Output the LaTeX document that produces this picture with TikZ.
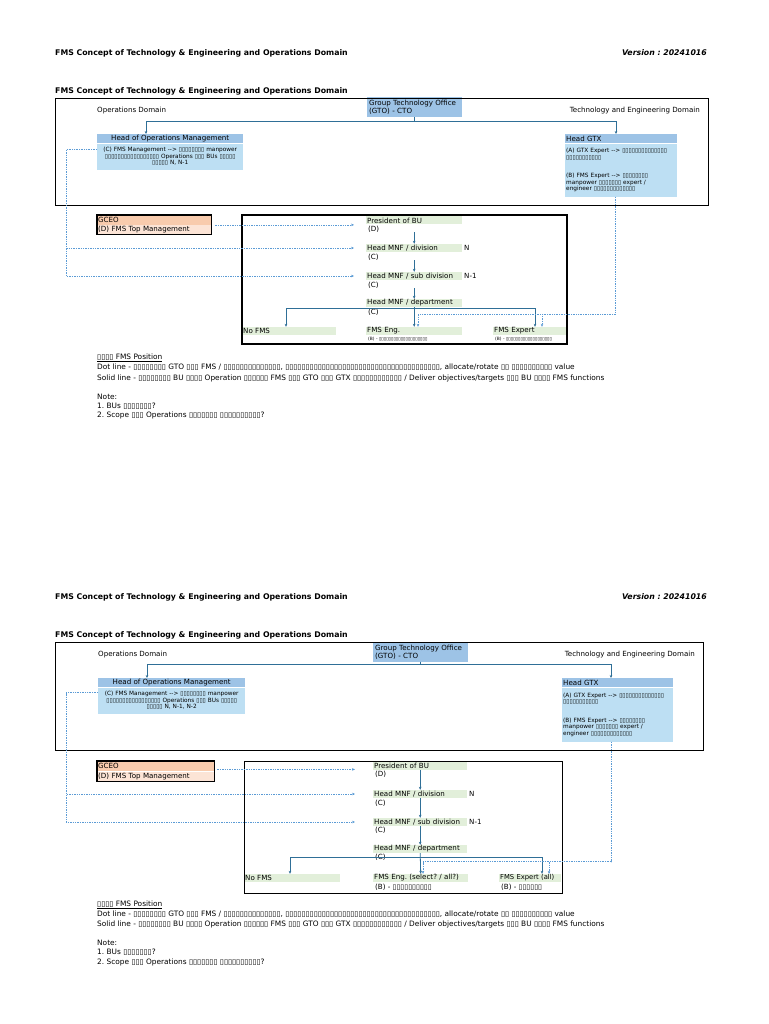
\documentclass[tikz,border=0pt]{standalone}
\usepackage{fontspec}
\setmainfont{DejaVu Sans}
\usetikzlibrary{arrows.meta,positioning}

\definecolor{gtoblue}{HTML}{9DC3E6}
\definecolor{boxblue}{HTML}{BDDFF3}
\definecolor{cellgreen}{HTML}{E2EFDA}
\definecolor{ceodark}{HTML}{F8CBAD}
\definecolor{ceolight}{HTML}{FCE4D6}
\definecolor{linkblue}{HTML}{2F6F97}
\definecolor{dotblue}{HTML}{5B9BD5}

\newcommand{\tofu}[1]{\foreach\k in {1,...,#1}{▯}}
\newcommand{\lblfont}{\fontsize{7.1}{8}\selectfont}
\newcommand{\notefont}{\fontsize{7.4}{8}\selectfont}
\newcommand{\smallfont}{\fontsize{5.8}{6.5}\selectfont}
\newcommand{\tinyfont}{\fontsize{4.4}{5}\selectfont}
\frenchspacing

\begin{document}
\begin{tikzpicture}[x=1pt,y=-1pt]
  \tikzstyle{ttl}=[font=\fontsize{7.8}{9}\selectfont\bfseries,inner sep=0pt]
  \tikzstyle{lbl}=[font=\lblfont,inner sep=0pt,anchor=west]
  \tikzstyle{note}=[font=\notefont,inner sep=0pt,anchor=west]
  \tikzstyle{gto}=[anchor=north west,fill=gtoblue,font=\lblfont,align=left,inner sep=2pt,text width=91pt]
  \tikzstyle{hdr}=[anchor=north west,fill=gtoblue,font=\lblfont,inner ysep=0pt,inner xsep=1pt,minimum height=9pt]
  \tikzstyle{body}=[anchor=north west,fill=boxblue,font=\smallfont,inner sep=1pt]
  \tikzstyle{ceo}=[anchor=north west,font=\lblfont,align=left,inner ysep=0pt,inner xsep=1pt]
  \tikzstyle{cell}=[anchor=west,fill=cellgreen,font=\lblfont,align=left,inner ysep=0pt,inner xsep=1pt,minimum height=8pt]
  \tikzstyle{link}=[draw=linkblue,line width=0.8pt,-{Stealth[length=3pt,width=2.6pt]}]
  \tikzstyle{dotlink}=[draw=dotblue,line width=0.7pt,dash pattern=on 1.4pt off 1pt,-{Stealth[length=3pt,width=2.6pt]}]
  \useasboundingbox[fill=white] (0,0) rectangle (768,1024);

  % ---- first version ----
  \node[ttl,anchor=west] (title1) at (55,53) {FMS Concept of Technology \& Engineering and Operations Domain};
  \node[ttl,anchor=east] (ver1) at (707,53) {\itshape Version : 20241016};
  \node[ttl,anchor=west] (sub1) at (55,91) {FMS Concept of Technology \& Engineering and Operations Domain};

  \node[gto,minimum height=20pt] (gto1) at (367,97) {Group Technology Office\\(GTO) - CTO};
  \node[lbl] (opsdom1) at (97,111) {Operations Domain};
  \node[lbl,anchor=east] (techdom1) at (700,111) {Technology and Engineering Domain};

  \node[hdr,minimum width=146pt] (hops1) at (97,134) {Head of Operations Management};
  \node[body,minimum width=146pt,minimum height=26pt,align=center,text width=142pt] (hopsb1) at (hops1.south west)
    {(C) FMS Management -{}-> \tofu{8} manpower\\\tofu{17} Operations \tofu{3} BUs \tofu{5}\\\tofu{5} N, N-1};
  \node[hdr,minimum width=112pt,text width=110pt,align=left] (hgtx1) at (565,134) {Head GTX};
  \node[body,minimum height=53pt,text width=110pt,align=left] (hgtxb1) at (hgtx1.south west)
    {(A) GTX Expert -{}-> \tofu{14}\\\tofu{11}\\[12pt](B) FMS Expert -{}-> \tofu{8}\\manpower \tofu{7} expert /\\engineer \tofu{13}};

  \node[ceo,fill=ceodark,minimum width=114pt,minimum height=9.5pt,text width=112pt] (gceo1) at (97,215) {GCEO};
  \node[ceo,fill=ceolight,minimum width=114pt,minimum height=9.5pt,text width=112pt] (gceob1) at (gceo1.south west) {(D) FMS Top Management};

  \node[cell,minimum width=96pt,text width=94pt] (pres1) at (366,220.5) {President of BU};
  \node[lbl] (pd1) at (368,229) {(D)};
  \node[cell,minimum width=96pt,text width=94pt] (div1) at (366,248) {Head MNF / division};
  \node[lbl] (dc1) at (368,257) {(C)};
  \node[lbl] (n1) at (464,248) {N};
  \node[cell,minimum width=96pt,text width=94pt] (subd1) at (366,276) {Head MNF / sub division};
  \node[lbl] (sc1) at (368,285) {(C)};
  \node[lbl] (nm1) at (464,276) {N-1};
  \node[cell,minimum width=96pt,text width=94pt] (dept1) at (366,303) {Head MNF / department};
  \node[lbl] (pc1) at (368,312) {(C)};
  \node[cell,minimum width=94pt,text width=92pt] (nofms1) at (242,331) {No FMS};
  \node[cell,minimum width=96pt,text width=94pt] (eng1) at (366,331) {FMS Eng.};
  \node[lbl,font=\tinyfont] (engt1) at (368,339) {(B) - \tofu{20}};
  \node[cell,minimum width=74pt,text width=72pt] (exp1) at (493,331) {FMS Expert};
  \node[lbl,font=\tinyfont] (expt1) at (495,339) {(B) - \tofu{19}};

  \draw[line width=0.6pt] (55,98) rectangle (708,205);
  \draw[line width=1.1pt] (242,215) rectangle (567,344);
  \draw[line width=1.1pt] (gceo1.north west) rectangle (gceob1.south east);

  \draw[link] (gto1.south) -- ++(0,4) -| ([xshift=49pt]hops1.north west);
  \draw[link] (gto1.south) -- ++(0,4) -| ([xshift=51pt]hgtx1.north west);
  \draw[link] (pres1.south |- pd1.south) -- (div1.north);
  \draw[link] (div1.south |- dc1.south) -- (subd1.north);
  \draw[link] (subd1.south |- sc1.south) -- (dept1.north);
  \draw[link] (dept1.south) -- (eng1.north);
  \draw[link] (dept1.south) ++(0,1) -| ([xshift=44pt]nofms1.north west);
  \draw[link] (dept1.south) ++(0,1) -| ([xshift=42pt]exp1.north west);

  \draw[dotlink] (gceob1.north east) ++(4,0) -- ([xshift=-12pt]gceob1.north east -| pres1.west);
  \draw[dotlink] ([yshift=7pt]hopsb1.west) -- ++(-31,0) |- ([xshift=-12pt]div1.west);
  \draw[dotlink] ([yshift=7pt]hopsb1.west) -- ++(-31,0) |- ([xshift=-12pt]subd1.west);
  \draw[dotlink] ([xshift=50pt]hgtxb1.south west) -- ++(0,118) -| ([xshift=52pt]eng1.north west);
  \draw[dotlink] ([xshift=50pt]hgtxb1.south west) -- ++(0,118) -| ([xshift=49pt]exp1.north west);

  \node[note] (pos1) at (97,358) {\underline{\tofu{4} FMS Position}};
  \node[note] (dot1) at (97,367) {Dot line - \tofu{8} GTO \tofu{3} FMS / \tofu{14}, \tofu{38}, allocate/rotate \tofu{2} \tofu{10} value};
  \node[note] (sol1) at (97,378) {Solid line - \tofu{8} BU \tofu{4} Operation \tofu{6} FMS \tofu{3} GTO \tofu{3} GTX \tofu{12} / Deliver objectives/targets \tofu{3} BU \tofu{4} FMS functions};
  \node[note] (note1) at (97,397) {Note:};
  \node[note] (qa1) at (97,406) {1. BUs \tofu{7}?};
  \node[note] (qb1) at (97,415) {2. Scope \tofu{3} Operations \tofu{7} \tofu{10}?};

  % ---- second version ----
  \node[ttl,anchor=west] (title2) at (55,597) {FMS Concept of Technology \& Engineering and Operations Domain};
  \node[ttl,anchor=east] (ver2) at (707,597) {\itshape Version : 20241016};
  \node[ttl,anchor=west] (sub2) at (55,635) {FMS Concept of Technology \& Engineering and Operations Domain};

  \node[gto,minimum height=17pt] (gto2) at (373,643) {Group Technology Office\\(GTO) - CTO};
  \node[lbl] (opsdom2) at (98,655) {Operations Domain};
  \node[lbl,anchor=east] (techdom2) at (695,655) {Technology and Engineering Domain};

  \node[hdr,minimum width=147pt] (hops2) at (98,678) {Head of Operations Management};
  \node[body,minimum width=147pt,minimum height=26pt,align=center,text width=143pt] (hopsb2) at (hops2.south west)
    {(C) FMS Management -{}-> \tofu{8} manpower\\\tofu{17} Operations \tofu{3} BUs \tofu{5}\\\tofu{5} N, N-1, N-2};
  \node[hdr,minimum width=111pt,text width=109pt,align=left] (hgtx2) at (562,678) {Head GTX};
  \node[body,minimum height=54pt,text width=109pt,align=left] (hgtxb2) at (hgtx2.south west)
    {(A) GTX Expert -{}-> \tofu{14}\\\tofu{11}\\[12pt](B) FMS Expert -{}-> \tofu{8}\\manpower \tofu{7} expert /\\engineer \tofu{13}};

  \node[ceo,fill=ceodark,minimum width=117pt,minimum height=10pt,text width=115pt] (gceo2) at (97,761) {GCEO};
  \node[ceo,fill=ceolight,minimum width=117pt,minimum height=10pt,text width=115pt] (gceob2) at (gceo2.south west) {(D) FMS Top Management};

  \node[cell,minimum width=94pt,text width=92pt] (pres2) at (373,765.5) {President of BU};
  \node[lbl] (pd2) at (375,774) {(D)};
  \node[cell,minimum width=94pt,text width=92pt] (div2) at (373,794) {Head MNF / division};
  \node[lbl] (dc2) at (375,803) {(C)};
  \node[lbl] (n2) at (469,794) {N};
  \node[cell,minimum width=94pt,text width=92pt] (subd2) at (373,822) {Head MNF / sub division};
  \node[lbl] (sc2) at (375,830) {(C)};
  \node[lbl] (nm2) at (469,822) {N-1};
  \node[cell,minimum width=94pt,text width=92pt] (dept2) at (373,849) {Head MNF / department};
  \node[lbl] (pc2) at (375,857) {(C)};
  \node[cell,minimum width=96pt,text width=94pt] (nofms2) at (244,878) {No FMS};
  \node[cell,minimum width=95pt,text width=93pt] (eng2) at (373,878) {FMS Eng. (select? / all?)};
  \node[lbl] (engt2) at (375,887) {(B) - \tofu{10}};
  \node[cell,minimum width=62pt,text width=60pt,font=\fontsize{6.8}{8}\selectfont] (exp2) at (499,878) {FMS Expert (all)};
  \node[lbl] (expt2) at (501,887) {(B) - \tofu{6}};

  \draw[line width=0.6pt] (55,642) rectangle (703,750);
  \draw[line width=0.8pt] (244,761) rectangle (562,893);
  \draw[line width=1.1pt] (gceo2.north west) rectangle (gceob2.south east);

  \draw[link] (gto2.south) -- ++(0,3) -| ([xshift=49pt]hops2.north west);
  \draw[link] (gto2.south) -- ++(0,3) -| ([xshift=49pt]hgtx2.north west);
  \draw[link] (pres2.south) -- (div2.north);
  \draw[link] (div2.south) -- (subd2.north);
  \draw[link] (subd2.south) -- (dept2.north);
  \draw[link] (dept2.south) -- (eng2.north);
  \draw[link] (dept2.south) ++(0,4) -| ([xshift=46pt]nofms2.north west);
  \draw[link] (dept2.south) ++(0,4) -| ([xshift=43pt]exp2.north west);

  \draw[dotlink] (gceob2.north east) ++(3,-2) -- ([xshift=-18pt,yshift=2pt]gceob2.north east -| pres2.west);
  \draw[dotlink] ([yshift=8pt]hopsb2.west) -- ++(-32,0) |- ([xshift=-18pt]div2.west);
  \draw[dotlink] ([yshift=8pt]hopsb2.west) -- ++(-32,0) |- ([xshift=-18pt]subd2.west);
  \draw[dotlink] ([xshift=49pt]hgtxb2.south west) -- ++(0,120) -| ([xshift=50pt]eng2.north west);
  \draw[dotlink] ([xshift=49pt]hgtxb2.south west) -- ++(0,120) -| ([xshift=50pt]exp2.north west);

  \node[note] (pos2) at (97,905) {\underline{\tofu{4} FMS Position}};
  \node[note] (dot2) at (97,914) {Dot line - \tofu{8} GTO \tofu{3} FMS / \tofu{14}, \tofu{38}, allocate/rotate \tofu{2} \tofu{10} value};
  \node[note] (sol2) at (97,924) {Solid line - \tofu{8} BU \tofu{4} Operation \tofu{6} FMS \tofu{3} GTO \tofu{3} GTX \tofu{12} / Deliver objectives/targets \tofu{3} BU \tofu{4} FMS functions};
  \node[note] (note2) at (97,943) {Note:};
  \node[note] (qa2) at (97,952) {1. BUs \tofu{7}?};
  \node[note] (qb2) at (97,962) {2. Scope \tofu{3} Operations \tofu{7} \tofu{10}?};
\end{tikzpicture}
\end{document}
